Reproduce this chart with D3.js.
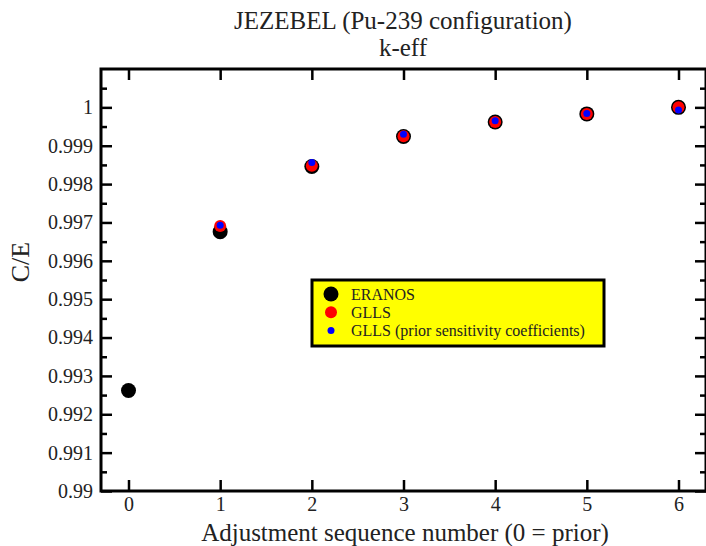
<!DOCTYPE html>
<meta charset="utf-8">
<head>
<style>
body { margin: 0; background: #fff; }
svg text { font-family: "Liberation Serif", "Times New Roman", serif; fill: #222; }
.axis line { stroke: #000; stroke-width: 2.5px; }
.axis path { display: none; }
</style>
<script src="https://d3js.org/d3.v7.min.js"></script>
</head>
<body>
<div id="chart"></div>
<script>

// adjustment step (0 = prior)
var steps = [0, 1, 2, 3, 4, 5, 6];
var eranos = [0.99262, 0.99676, 0.99846, 0.99924, 0.99962, 0.99983, 1.00000];
var glls = [null, 0.99691, 0.99848, 0.99925, 0.99962, 0.99983, 1.00000];
var gllsPrior = [null, 0.99693, 0.99856, 0.99930, 0.99965, 0.99984, 0.99993];

var xTicks = [0, 1, 2, 3, 4, 5, 6];
var yTicks = [0.99, 0.991, 0.992, 0.993, 0.994, 0.995, 0.996, 0.997, 0.998, 0.999, 1];
var yTickLabels = ["0.99", "0.991", "0.992", "0.993", "0.994", "0.995", "0.996", "0.997", "0.998", "0.999", "1"];
var yMinor = [0.9905, 0.9915, 0.9925, 0.9935, 0.9945, 0.9955, 0.9965, 0.9975, 0.9985, 0.9995, 1.0005];

var legendNames = ["ERANOS", "GLLS", "GLLS (prior sensitivity coefficients)"];

var W = 706, H = 546;
var margin = {top: 69, right: 0, bottom: 55, left: 101};

var svg = d3.select("#chart").append("svg")
  .attr("width", W)
  .attr("height", H);

var x = d3.scaleLinear().domain([-0.3, 6.3]).range([margin.left, margin.left + 605]);
var y = d3.scaleLinear().domain([0.99, 1.001]).range([491, margin.top]);

// titles
svg.append("text").attr("x", 403).attr("y", 29).attr("text-anchor", "middle")
  .style("font-size", "25px").text("JEZEBEL (Pu-239 configuration)");
svg.append("text").attr("x", 403).attr("y", 56).attr("text-anchor", "middle")
  .style("font-size", "25px").text("k-eff");

// axes, ticks point inward
svg.append("g").attr("class", "axis").attr("transform", "translate(0,491)")
  .call(d3.axisBottom(x).tickValues(xTicks).tickSize(-11).tickPadding(6).tickFormat(d3.format("d")))
  .selectAll("text").style("font-size", "20px").attr("fill", "#222");
svg.append("g").attr("class", "axis").attr("transform", "translate(0," + margin.top + ")")
  .call(d3.axisTop(x).tickValues(xTicks).tickSize(-11).tickFormat(""));

svg.append("g").attr("class", "axis").attr("transform", "translate(" + x(-0.3) + ",0)")
  .call(d3.axisLeft(y).tickValues(yTicks).tickSize(-11).tickPadding(8)
    .tickFormat(function(d, i) { return yTickLabels[i]; }))
  .selectAll("text").style("font-size", "20px").attr("fill", "#222");
svg.append("g").attr("class", "axis").attr("transform", "translate(" + x(-0.3) + ",0)")
  .call(d3.axisLeft(y).tickValues(yMinor).tickSize(-6).tickFormat(""));
svg.append("g").attr("class", "axis").attr("transform", "translate(" + x(6.3) + ",0)")
  .call(d3.axisRight(y).tickValues(yTicks).tickSize(-11).tickFormat(""));
svg.append("g").attr("class", "axis").attr("transform", "translate(" + x(6.3) + ",0)")
  .call(d3.axisRight(y).tickValues(yMinor).tickSize(-6).tickFormat(""));

// frame
svg.append("rect")
  .attr("x", x(-0.3)).attr("y", y(1.001))
  .attr("width", x(6.3) - x(-0.3)).attr("height", y(0.99) - y(1.001))
  .attr("fill", "none").attr("stroke", "#000").attr("stroke-width", 3);

// axis labels
svg.append("text").attr("x", 405).attr("y", 541).attr("text-anchor", "middle")
  .style("font-size", "25px").text("Adjustment sequence number (0 = prior)");
svg.append("text").attr("transform", "translate(29,262) rotate(-90)").attr("text-anchor", "middle")
  .style("font-size", "26px").text("C/E");

// points
function dots(vals, r, col) {
  svg.append("g").selectAll("circle")
    .data(steps.filter(function(d, i) { return vals[i] != null; }))
    .enter().append("circle")
      .attr("cx", function(d) { return x(d); })
      .attr("cy", function(d) { return y(vals[d]); })
      .attr("r", r)
      .attr("fill", col);
}
dots(eranos, 7.5, "#000");
dots(glls, 6, "#ff0000");
dots(gllsPrior, 3.5, "#0000ff");

// legend
var lg = svg.append("g");
lg.append("rect").attr("x", 312).attr("y", 280).attr("width", 292).attr("height", 66)
  .attr("fill", "#ffff00").attr("stroke", "#000").attr("stroke-width", 3);
var legR = [7.5, 6, 3.5], legC = ["#000", "#ff0000", "#0000ff"];
legendNames.forEach(function(name, i) {
  var yy = 294 + i * 18.3;
  lg.append("circle").attr("cx", 331).attr("cy", yy).attr("r", legR[i]).attr("fill", legC[i]);
  lg.append("text").attr("x", 351).attr("y", yy + 5.5).style("font-size", "16px").text(name);
});

</script>
</body>
</html>
